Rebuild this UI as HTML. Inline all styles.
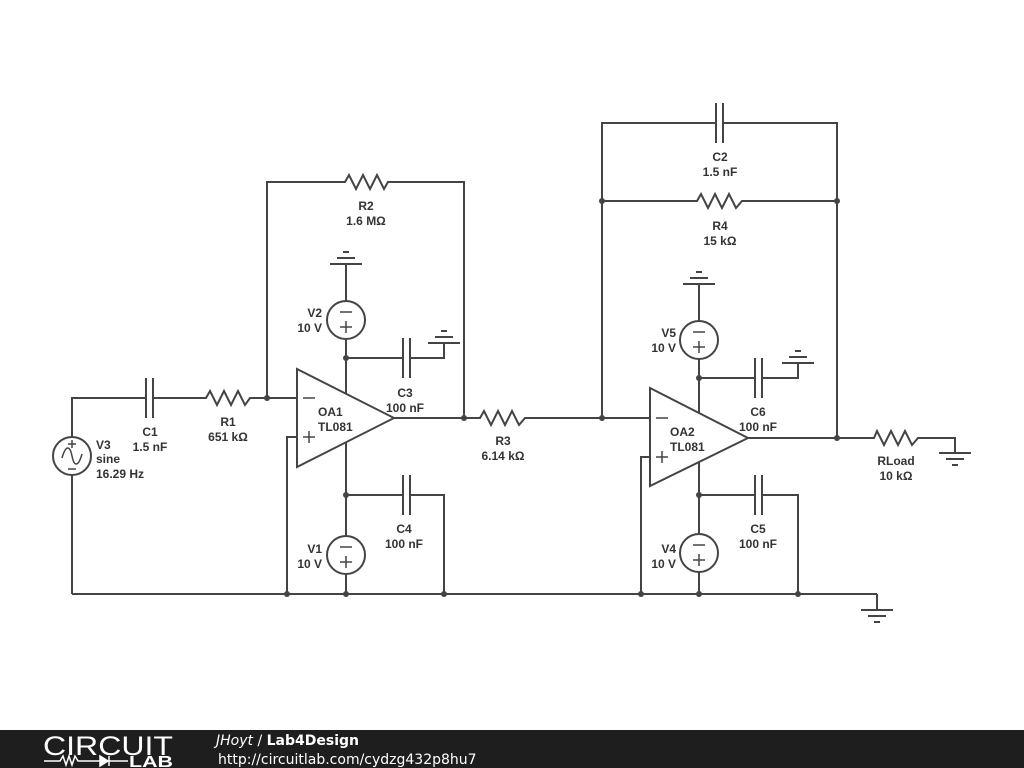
<!DOCTYPE html>
<html><head><meta charset="utf-8"><style>
html,body{margin:0;padding:0;background:#fff;}
svg{display:block;}
text{font-family:"Liberation Sans",sans-serif;font-size:12px;font-weight:bold;fill:#333;}
</style></head><body>
<svg width="1024" height="768" viewBox="0 0 1024 768" xmlns="http://www.w3.org/2000/svg">
<g stroke="#444" stroke-width="2" fill="none">
<polyline points="267,398 267,182 345,182 349,175 356,189 363,175 370,189 377,175 384,189 388,182 464,182 464,418"/>
<polyline points="72,437 72,398 146,398"/>
<line x1="146" y1="378" x2="146" y2="418"/><line x1="153" y1="378" x2="153" y2="418"/>
<polyline points="153,398 206,398 210,391 217,405 224,391 231,405 238,391 245,405 250,398 297,398"/>
<circle cx="72" cy="456" r="19"/>
<path d="M62,458 C66,444 70,446 72,456 C74,466 78,468 82,454" stroke-width="1.5"/>
<line x1="72" y1="475" x2="72" y2="594"/>
<line x1="72" y1="594" x2="877" y2="594"/>
<polygon points="297,369 297,467 394,418"/>
<polyline points="394,418 464,418 480,418 484,411 491,425 498,411 505,425 512,411 519,425 525,418 650,418"/>
<polyline points="297,437 287,437 287,594"/>
<line x1="346" y1="394" x2="346" y2="340"/>
<circle cx="346" cy="320" r="19"/>
<line x1="346" y1="301" x2="346" y2="264"/>
<line x1="330" y1="264" x2="362" y2="264"/><line x1="337" y1="258" x2="355" y2="258"/><line x1="343" y1="252" x2="349" y2="252"/>
<polyline points="346,358 403,358"/>
<line x1="403" y1="338" x2="403" y2="378"/><line x1="410" y1="338" x2="410" y2="378"/>
<polyline points="410,358 444,358 444,343"/>
<line x1="428" y1="343" x2="460" y2="343"/><line x1="435" y1="337" x2="453" y2="337"/><line x1="441" y1="331" x2="447" y2="331"/>
<line x1="346" y1="442" x2="346" y2="536"/>
<polyline points="346,495 403,495"/>
<line x1="403" y1="475" x2="403" y2="515"/><line x1="410" y1="475" x2="410" y2="515"/>
<polyline points="410,495 444,495 444,594"/>
<circle cx="346" cy="555" r="19"/>
<line x1="346" y1="574" x2="346" y2="594"/>
<polyline points="602,418 602,123 716,123"/>
<line x1="716" y1="103" x2="716" y2="143"/><line x1="723" y1="103" x2="723" y2="143"/>
<polyline points="723,123 837,123 837,438"/>
<polyline points="602,201 697,201 701,194 708,208 715,194 722,208 729,194 736,208 742,201 837,201"/>
<polygon points="650,388 650,486 748,438"/>
<polyline points="650,457 641,457 641,594"/>
<polyline points="748,438 874,438 877,431 884,445 891,431 898,445 905,431 912,445 918,438 955,438 955,453"/>
<line x1="939" y1="453" x2="971" y2="453"/><line x1="946" y1="459" x2="964" y2="459"/><line x1="952" y1="465" x2="958" y2="465"/>
<polyline points="877,594 877,610"/>
<line x1="861" y1="610" x2="893" y2="610"/><line x1="868" y1="616" x2="886" y2="616"/><line x1="874" y1="622" x2="880" y2="622"/>
<line x1="699" y1="413" x2="699" y2="359"/>
<circle cx="699" cy="340" r="19"/>
<line x1="699" y1="321" x2="699" y2="284"/>
<line x1="683" y1="284" x2="715" y2="284"/><line x1="690" y1="278" x2="708" y2="278"/><line x1="696" y1="272" x2="702" y2="272"/>
<polyline points="699,378 755,378"/>
<line x1="755" y1="358" x2="755" y2="398"/><line x1="762" y1="358" x2="762" y2="398"/>
<polyline points="762,378 798,378 798,363"/>
<line x1="782" y1="363" x2="814" y2="363"/><line x1="789" y1="357" x2="807" y2="357"/><line x1="795" y1="351" x2="801" y2="351"/>
<line x1="699" y1="462" x2="699" y2="534"/>
<polyline points="699,495 755,495"/>
<line x1="755" y1="475" x2="755" y2="515"/><line x1="762" y1="475" x2="762" y2="515"/>
<polyline points="762,495 798,495 798,594"/>
<circle cx="699" cy="553" r="19"/>
<line x1="699" y1="572" x2="699" y2="594"/>
</g>
<g stroke="#444" stroke-width="1.5">
<line x1="340" y1="312" x2="352" y2="312"/><line x1="340" y1="327" x2="352" y2="327"/><line x1="346" y1="321" x2="346" y2="333"/>
<line x1="340" y1="547" x2="352" y2="547"/><line x1="340" y1="562" x2="352" y2="562"/><line x1="346" y1="556" x2="346" y2="568"/>
<line x1="693" y1="332" x2="705" y2="332"/><line x1="693" y1="347" x2="705" y2="347"/><line x1="699" y1="341" x2="699" y2="353"/>
<line x1="693" y1="545" x2="705" y2="545"/><line x1="693" y1="560" x2="705" y2="560"/><line x1="699" y1="554" x2="699" y2="566"/>
<line x1="68" y1="444" x2="76" y2="444"/><line x1="72" y1="440" x2="72" y2="448"/><line x1="68" y1="469" x2="76" y2="469"/>
<line x1="303" y1="398" x2="315" y2="398"/><line x1="303" y1="437" x2="315" y2="437"/><line x1="309" y1="431" x2="309" y2="443"/>
<line x1="656" y1="418" x2="668" y2="418"/><line x1="656" y1="457" x2="668" y2="457"/><line x1="662" y1="451" x2="662" y2="463"/>
</g>
<g fill="#444">
<circle cx="267" cy="398" r="3"/><circle cx="464" cy="418" r="3"/><circle cx="346" cy="358" r="3"/><circle cx="346" cy="495" r="3"/>
<circle cx="287" cy="594" r="3"/><circle cx="346" cy="594" r="3"/><circle cx="444" cy="594" r="3"/>
<circle cx="602" cy="418" r="3"/><circle cx="602" cy="201" r="3"/><circle cx="837" cy="201" r="3"/><circle cx="837" cy="438" r="3"/>
<circle cx="699" cy="378" r="3"/><circle cx="699" cy="495" r="3"/>
<circle cx="641" cy="594" r="3"/><circle cx="699" cy="594" r="3"/><circle cx="798" cy="594" r="3"/>
</g>
<g text-anchor="middle">
<text x="366" y="210">R2</text><text x="366" y="225">1.6 MΩ</text>
<text x="720" y="161">C2</text><text x="720" y="176">1.5 nF</text>
<text x="720" y="230">R4</text><text x="720" y="245">15 kΩ</text>
<text x="150" y="436">C1</text><text x="150" y="451">1.5 nF</text>
<text x="228" y="426">R1</text><text x="228" y="441">651 kΩ</text>
<text x="405" y="397">C3</text><text x="405" y="412">100 nF</text>
<text x="404" y="533">C4</text><text x="404" y="548">100 nF</text>
<text x="503" y="445">R3</text><text x="503" y="460">6.14 kΩ</text>
<text x="758" y="416">C6</text><text x="758" y="431">100 nF</text>
<text x="758" y="533">C5</text><text x="758" y="548">100 nF</text>
<text x="896" y="465">RLoad</text><text x="896" y="480">10 kΩ</text>
</g>
<g text-anchor="end">
<text x="322" y="317">V2</text><text x="322" y="332">10 V</text>
<text x="322" y="553">V1</text><text x="322" y="568">10 V</text>
<text x="676" y="337">V5</text><text x="676" y="352">10 V</text>
<text x="676" y="553">V4</text><text x="676" y="568">10 V</text>
</g>
<text x="96" y="449">V3</text><text x="96" y="463">sine</text><text x="96" y="478">16.29 Hz</text>
<text x="318" y="416">OA1</text><text x="318" y="431">TL081</text>
<text x="670" y="436">OA2</text><text x="670" y="451">TL081</text>
<rect x="0" y="730" width="1024" height="38" fill="#1e1e1e"/>
<text x="43" y="755" textLength="130" lengthAdjust="spacingAndGlyphs" style="font-size:27px;font-weight:normal;fill:#fff">CIRCUIT</text>
<g stroke="#fff" stroke-width="1.5" fill="none">
<polyline points="44,761 60,761 63,756 66,765 69,756 72,765 75,756 78,761 100,761"/>
<polygon points="100,756 100,766 108,761" fill="#fff"/>
<line x1="109" y1="756" x2="109" y2="766"/><line x1="109" y1="761" x2="128" y2="761"/>
</g>
<text x="129" y="767" textLength="44" lengthAdjust="spacingAndGlyphs" style="font-size:16px;font-weight:bold;fill:#fff">LAB</text>
<text x="216" y="745" style="font-size:14px;font-weight:normal;font-style:italic;fill:#fff;font-family:'DejaVu Sans',sans-serif">JHoyt <tspan font-style="normal">/</tspan> <tspan font-style="normal" font-weight="bold">Lab4Design</tspan></text>
<text x="218" y="764" style="font-size:14px;font-weight:normal;fill:#fff;font-family:'DejaVu Sans',sans-serif">http://circuitlab.com/cydzg432p8hu7</text>
</svg>
</body></html>
